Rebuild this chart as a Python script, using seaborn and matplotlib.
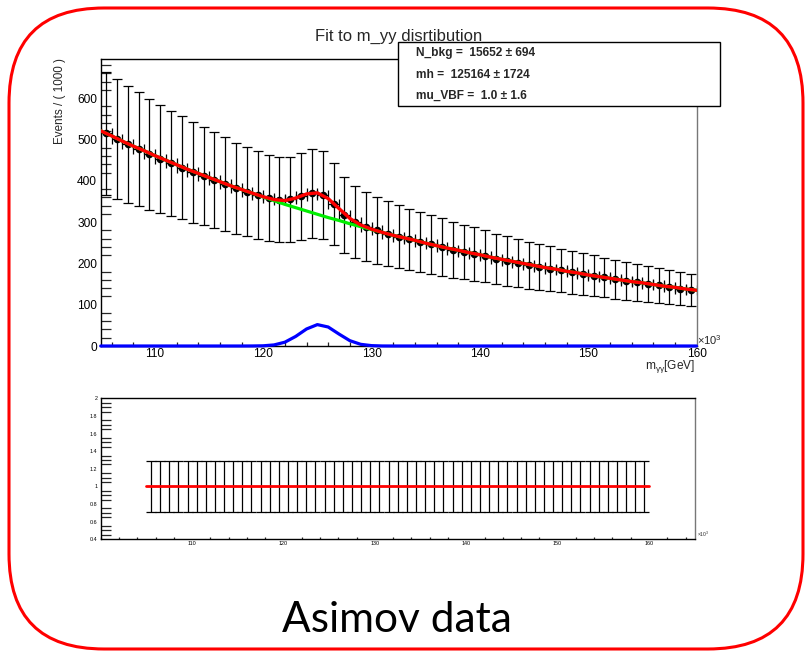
import numpy as np
import pandas as pd
import matplotlib
matplotlib.use("Agg")
import matplotlib.pyplot as plt
import matplotlib.transforms as mtransforms
from matplotlib.patches import FancyBboxPatch, Rectangle
from matplotlib.ticker import MultipleLocator
import seaborn as sns

# ---------------- data ----------------
m_lo, m_hi, bin_width = 105.0, 160.0, 1.0

# Asimov data, events per 1 GeV bin (bin centres 105.5 ... 159.5)
data_counts = [515, 501, 489, 476, 464, 453, 442, 432, 421, 412,
               401, 392, 382, 374, 366, 359, 354, 355, 363, 370,
               366, 344, 318, 301, 289, 280, 272, 265, 258, 252,
               246, 240, 233, 228, 223, 217, 211, 206, 200, 196,
               192, 187, 183, 178, 174, 170, 166, 162, 158, 154,
               150, 147, 143, 139, 136]
rel_err = 0.29            # relative error of each data point

# fitted curves evaluated at 105, 106, ..., 160 GeV
bkg_fit = [521, 509, 496, 484, 473, 461, 450, 439, 428, 418,
           408, 398, 388, 379, 370, 361, 352, 343, 335, 327,
           319, 311, 304, 296, 289, 282, 275, 268, 262, 256,
           249, 243, 237, 232, 226, 221, 215, 210, 205, 200,
           195, 190, 186, 181, 177, 172, 168, 164, 160, 156,
           153, 149, 145, 142, 138, 135]
sig_fit = [0, 0, 0, 0, 0, 0, 0, 0, 0, 0,
           0, 0, 0, 0, 0.1, 0.5, 2.6, 9.2, 23.2, 41.2,
           51.8, 46.0, 28.9, 12.9, 4.1, 0.9, 0.1, 0, 0, 0,
           0, 0, 0, 0, 0, 0, 0, 0, 0, 0,
           0, 0, 0, 0, 0, 0, 0, 0, 0, 0,
           0, 0, 0, 0, 0, 0]

ratio_level = 1.0
ratio_err = 0.29

main_xticks = [110, 120, 130, 140, 150, 160]
main_yticks = [0, 100, 200, 300, 400, 500, 600]
ratio_yticks = [0.4, 0.6, 0.8, 1.0, 1.2, 1.4, 1.6, 1.8, 2.0]
ratio_yticklabels = ["0.4", "0.6", "0.8", "1", "1.2", "1.4", "1.6", "1.8", "2"]

title_text = "Fit to m_yy disrtibution"
ylabel_text = "Events / ( 1000 )"
stats_lines = ["N_bkg =  15652 \u00b1 694",
               "mh =  125164 \u00b1 1724",
               "mu_VBF =  1.0 \u00b1 1.6"]
caption_text = "Asimov data"

# ---------------- style ----------------
sns.set_style("white")
plt.rcParams["font.family"] = ["Liberation Sans", "DejaVu Sans"]
plt.rcParams["mathtext.fontset"] = "custom"
plt.rcParams["mathtext.rm"] = "Liberation Sans"
plt.rcParams["mathtext.it"] = "Liberation Sans:italic"

W, H = 806, 652
fig = plt.figure(figsize=(W / 100, H / 100), dpi=100)
fig.patch.set_facecolor("white")


def fx(px):
    return px / W


def fy(py):
    return 1 - py / H


# ---------------- main panel ----------------
ax = fig.add_axes([fx(100.7), fy(346), (696.5 - 100.7) / W, (346 - 59) / H])

centers = np.arange(m_lo + bin_width / 2, m_hi, bin_width)
df = pd.DataFrame({"m": centers, "n": data_counts})
df["err"] = df["n"] * rel_err

ax.errorbar(df["m"], df["n"], yerr=df["err"], xerr=bin_width / 2, fmt="none",
            ecolor="black", elinewidth=0.9, capsize=3.4, capthick=0.9, zorder=2)
sns.scatterplot(data=df, x="m", y="n", ax=ax, color="black", s=30,
                edgecolor="black", linewidth=0, zorder=3, legend=False)

fit_x = np.arange(m_lo, m_hi + 0.5, 1.0)
fit_df = pd.DataFrame({"m": fit_x, "bkg": bkg_fit, "sig": sig_fit})
fit_df["tot"] = fit_df["bkg"] + fit_df["sig"]

sns.lineplot(data=fit_df, x="m", y="bkg", ax=ax, color="#00ee00", lw=2.3, zorder=4)
sns.lineplot(data=fit_df, x="m", y="tot", ax=ax, color="#ff0000", lw=2.4, zorder=5)
sns.lineplot(data=fit_df, x="m", y="sig", ax=ax, color="#0000ff", lw=2.3, zorder=6,
             clip_on=False)

ax.set_xlim(m_lo, m_hi)
ax.set_ylim(0, 695)
ax.set_xticks(main_xticks)
ax.set_xticklabels([str(t) for t in main_xticks])
ax.set_yticks(main_yticks)
ax.set_yticklabels([str(t) for t in main_yticks])
ax.xaxis.set_minor_locator(MultipleLocator(2))
ax.yaxis.set_minor_locator(MultipleLocator(20))
ax.tick_params(direction="in", top=False, right=False, colors="black",
               labelsize=8.6, width=0.9)
ax.tick_params(axis="x", which="major", length=6.5, pad=1.2)
ax.tick_params(axis="x", which="minor", length=3.2, width=0.9, direction="in", bottom=True)
ax.tick_params(axis="y", which="major", length=13.7, pad=2.6)
ax.tick_params(axis="y", which="minor", length=7.2, width=0.9, direction="in", left=True)
ax.set_xlabel("")
ax.set_ylabel("")
for s in ax.spines.values():
    s.set_visible(True)
    s.set_color("black")
    s.set_linewidth(1.0)
ax.spines["right"].set_color("#777777")

fig.text(fx(60), fy(58), ylabel_text, rotation=90, ha="center", va="top", fontsize=8.4)
fig.text(fx(695), fy(369), r"$\mathregular{m_{\gamma\gamma}}$[GeV]", ha="right",
         va="baseline", fontsize=8.6)
fig.text(fx(697), fy(345), r"$\mathregular{\times10^{3}}$", ha="left", va="baseline",
         fontsize=8.0)

# title
fig.text(fx(398.5), fy(41.3), title_text, ha="center", va="baseline", fontsize=12.0)

# stats box
fig.add_artist(Rectangle((fx(398.3), fy(106)), (720 - 398.3) / W, (106 - 42.3) / H,
                         transform=fig.transFigure, facecolor="white",
                         edgecolor="black", lw=1.0, zorder=5))
for line, yb in zip(stats_lines, [56.0, 78.3, 98.5]):
    fig.text(fx(416), fy(yb), line, ha="left", va="baseline", fontsize=8.6,
             fontweight="bold", zorder=6)

# ---------------- ratio panel ----------------
axr = fig.add_axes([fx(100.7), fy(539.3), (694.7 - 100.7) / W, (539.3 - 398.3) / H])
rdf = pd.DataFrame({"m": centers, "r": [ratio_level] * len(centers)})
axr.errorbar(rdf["m"], rdf["r"], yerr=ratio_err, fmt="none", ecolor="black",
             elinewidth=0.9, capsize=3.4, capthick=0.9, zorder=2)
lf = pd.DataFrame({"m": [m_lo, m_hi], "r": [ratio_level, ratio_level]})
sns.lineplot(data=lf, x="m", y="r", ax=axr, color="#ff0000", lw=2.0, zorder=3)
axr.set_xlim(100, 165)
axr.set_ylim(0.4, 2.0)
axr.set_xticks(main_xticks)
axr.set_xticklabels([str(t) for t in main_xticks])
axr.set_yticks(ratio_yticks)
axr.set_yticklabels(ratio_yticklabels)
axr.xaxis.set_minor_locator(MultipleLocator(2))
axr.yaxis.set_minor_locator(MultipleLocator(0.05))
axr.tick_params(direction="in", top=False, right=False, colors="black",
                labelsize=3.9, width=0.9)
axr.tick_params(axis="x", which="major", length=3.6, pad=1.0)
axr.tick_params(axis="x", which="minor", length=1.8, width=0.9, direction="in", bottom=True)
axr.tick_params(axis="y", which="major", length=13.2, pad=2.4)
axr.tick_params(axis="y", which="minor", length=7.2, width=0.9, direction="in", left=True)
axr.set_xlabel("")
axr.set_ylabel("")
for s in axr.spines.values():
    s.set_visible(True)
    s.set_color("black")
    s.set_linewidth(1.0)
axr.spines["right"].set_color("#777777")
fig.text(fx(697), fy(537), r"$\mathregular{\times10^{3}}$", ha="left", va="baseline",
         fontsize=3.6)

# ---------------- slide frame & caption ----------------
frame = FancyBboxPatch((9, H - 649), 794, 641,
                       boxstyle="round,pad=0,rounding_size=95",
                       transform=mtransforms.IdentityTransform(),
                       facecolor="none", edgecolor="#ff0000", lw=2.2, zorder=10)
fig.add_artist(frame)
fig.text(fx(397), fy(632), caption_text, ha="center", va="baseline",
         fontsize=30.5, family=["Lato", "DejaVu Sans"], color="black")

fig.savefig("out.png", dpi=100, facecolor="white")
